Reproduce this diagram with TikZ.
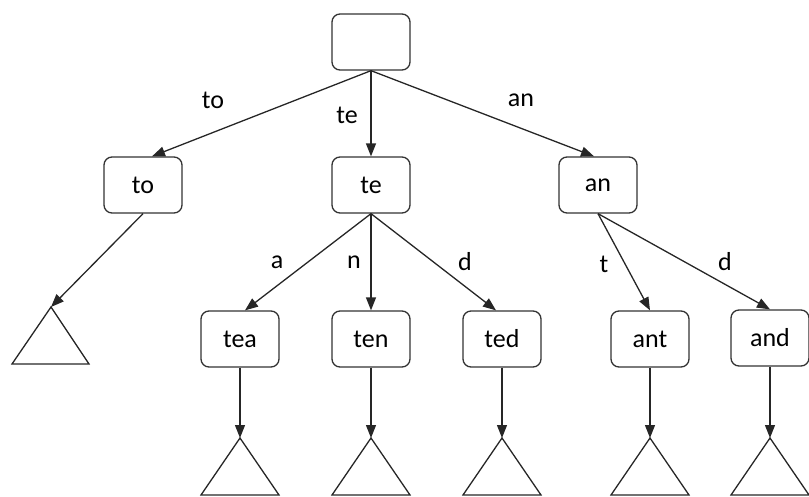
\documentclass[tikz,border=0pt]{standalone}
\usepackage{fontspec}
\setmainfont{Carlito}
\usetikzlibrary{arrows.meta}
\begin{document}
\begin{tikzpicture}[x=1pt,y=-1pt,
  box/.style={draw=black!80,line width=1.3pt,rounded corners=8pt,minimum width=78pt,minimum height=56pt,inner sep=0pt,font=\fontsize{26}{30}\selectfont},
  lbl/.style={font=\fontsize{26}{30}\selectfont,inner sep=0pt},
  edge/.style={draw=black!85,line width=1.3pt,-{Triangle[length=13pt,width=10pt]}},
  leaf/.style={draw=black!85,line width=1.3pt,line join=miter}]
\useasboundingbox (0,0) rectangle (809,496);
\node[box] (root) at (371,42) {};
\node[box] (to) at (143,185) {to};
\node[box] (te) at (371,185) {te};
\node[box] (an) at (598,185) {an};
\node[box] (tea) at (240,339) {tea};
\node[box] (ten) at (371,339) {ten};
\node[box] (ted) at (502,339) {ted};
\node[box] (ant) at (650,339) {ant};
\node[box] (and) at (770,338) {and};
% leaf triangle apexes
\coordinate (lto) at (51,307);
\coordinate (ltea) at (240,438);
\coordinate (lten) at (371,438);
\coordinate (lted) at (502,438);
\coordinate (lant) at (650,438);
\coordinate (land) at (770,438);
\foreach \c in {ltea,lten,lted,lant,land}{
  \draw[leaf] (\c) -- ++(39,57) -- ++(-78,0) -- cycle;
}
\draw[leaf] (lto) -- ++(38,57) -- ++(-77,0) -- cycle;
% edges
\draw[edge] (root.south) -- ([xshift=9pt]to.north);
\draw[edge] (root.south) -- (te.north);
\draw[edge] (root.south) -- ([xshift=-4pt]an.north);
\draw[edge] (te.south) -- ([xshift=5pt]tea.north);
\draw[edge] (te.south) -- (ten.north);
\draw[edge] (te.south) -- ([xshift=-6pt]ted.north);
\draw[edge] (an.south) -- (ant.north);
\draw[edge] (an.south) -- (and.north);
\draw[edge] (to.south) -- (lto);
\draw[edge] (tea.south) -- (ltea);
\draw[edge] (ten.south) -- (lten);
\draw[edge] (ted.south) -- (lted);
\draw[edge] (ant.south) -- (lant);
\draw[edge] (and.south) -- (land);
% labels
\node[lbl] (l1) at (213,100) {to};
\node[lbl] (l2) at (347,115) {te};
\node[lbl] (l3) at (521,100) {an};
\node[lbl] (l4) at (277,262) {a};
\node[lbl] (l5) at (354,262) {n};
\node[lbl] (l6) at (465,262) {d};
\node[lbl] (l7) at (604,264) {t};
\node[lbl] (l8) at (725,262) {d};
\end{tikzpicture}
\end{document}
